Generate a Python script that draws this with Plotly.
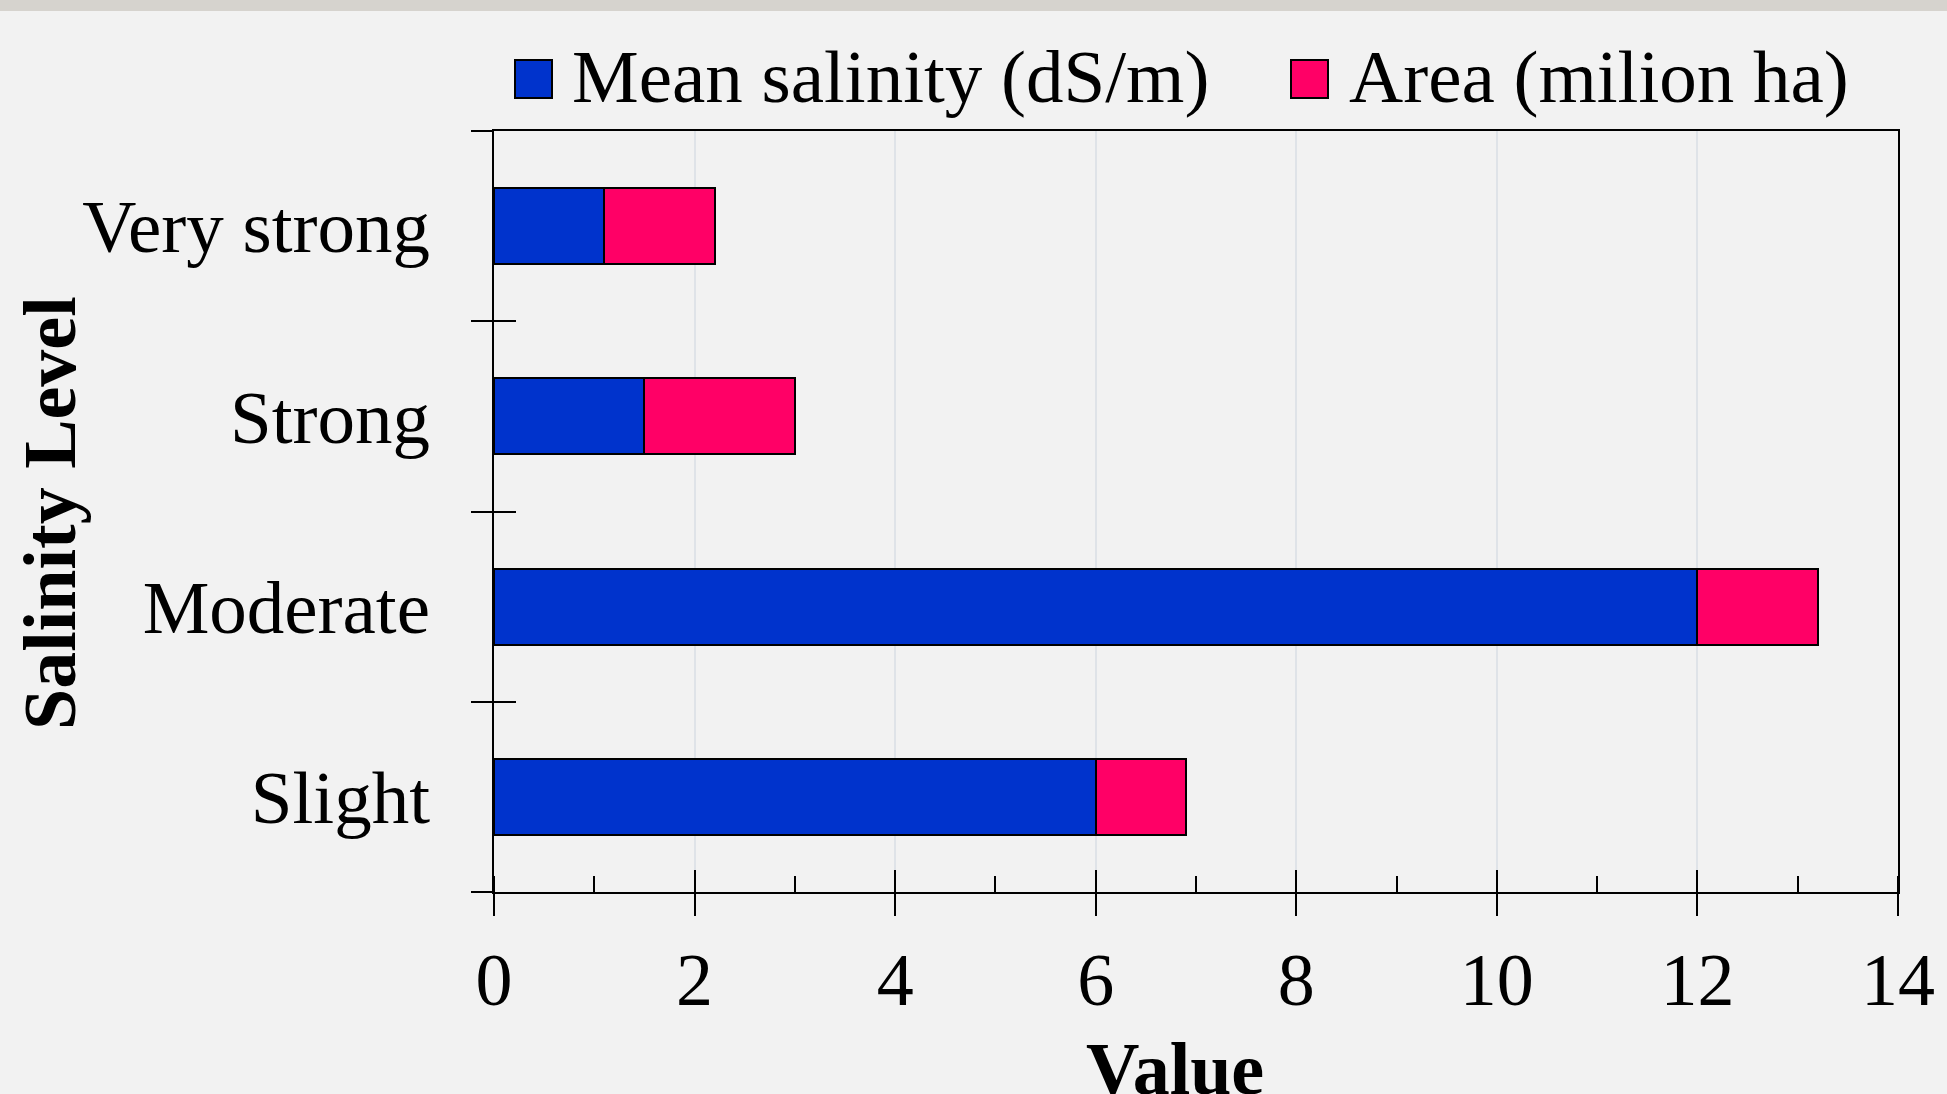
import plotly.graph_objects as go

# ---- data ----
levels = ["Slight", "Moderate", "Strong", "Very strong"]
mean_salinity = [6.0, 12.0, 1.5, 1.1]
area_mha = [0.9, 1.2, 1.5, 1.1]
series_names = ["Mean salinity (dS/m)", "Area (milion ha)"]
series_colors = ["#0033cc", "#ff0066"]
x_title = "Value"
y_title = "Salinity Level"

FONT = "Liberation Serif, Times New Roman, serif"
FS = 74
W, H = 1947, 1094
ML, MR, MT, MB = 494, 49, 131, 202
PW, PH = W - ML - MR, H - MT - MB


def px_x(x):
    return (x - ML) / PW


def px_y(y):
    return (H - MB - y) / PH


fig = go.Figure()
for vals, name, col in zip([mean_salinity, area_mha], series_names, series_colors):
    fig.add_trace(go.Bar(
        y=levels, x=vals, name=name, orientation="h",
        marker=dict(color=col, line=dict(color="black", width=2)),
        showlegend=False,
    ))

# invisible helper trace so overlay axes draw their category ticks
fig.add_trace(go.Scatter(
    y=levels, x=mean_salinity, xaxis="x2", yaxis="y2", mode="markers",
    marker=dict(opacity=0), hoverinfo="skip", showlegend=False,
))

fig.update_layout(
    width=W, height=H,
    margin=dict(l=ML, r=MR, t=MT, b=MB, autoexpand=False),
    paper_bgcolor="#f2f2f2", plot_bgcolor="#f2f2f2",
    barmode="stack", bargap=0.6,
    font=dict(family=FONT, size=FS, color="black"),
    xaxis=dict(
        range=[0, 14], dtick=2, tick0=0,
        ticks="outside", ticklen=22, tickwidth=2, tickcolor="black",
        minor=dict(dtick=1, ticks="inside", ticklen=16, tickwidth=2, tickcolor="black", showgrid=False),
        showgrid=True, gridcolor="#dfe3e8", gridwidth=1.5,
        showline=True, linecolor="black", linewidth=2, mirror=True,
        zeroline=False,
        tickfont=dict(family=FONT, size=FS),
        ticklabelstandoff=0,
        automargin=False,
    ),
    xaxis2=dict(
        overlaying="x", range=[0, 14], dtick=2, tick0=0,
        ticks="inside", ticklen=22, tickwidth=2, tickcolor="black",
        showticklabels=False, showgrid=False, zeroline=False, showline=False,
        anchor="y", side="bottom",
    ),
    yaxis=dict(
        type="category", categoryorder="array", categoryarray=levels,
        range=[-0.5, 3.5],
        ticks="outside", tickson="boundaries", ticklen=21, tickwidth=2, tickcolor="black",
        showgrid=False, zeroline=False,
        showline=True, linecolor="black", linewidth=2, mirror=True,
        tickfont=dict(family=FONT, size=75),
        ticklabelstandoff=47,
        automargin=False,
    ),
    yaxis2=dict(
        overlaying="y", type="category", categoryorder="array", categoryarray=levels,
        range=[-0.5, 3.5],
        ticks="inside", tickson="boundaries", ticklen=22, tickwidth=2, tickcolor="black",
        showticklabels=False, showgrid=False, zeroline=False, showline=False,
        anchor="x", side="left",
    ),
)

shapes = []
annotations = []

# custom legend (large square swatches like the reference)
legend_box_x = [515, 1291]
legend_text_x = [570, 1347]
for name, col, bx, tx in zip(series_names, series_colors, legend_box_x, legend_text_x):
    shapes.append(dict(type="rect", xref="paper", yref="paper",
                       x0=px_x(bx), x1=px_x(bx + 37), y0=px_y(98), y1=px_y(60),
                       fillcolor=col, line=dict(color="black", width=2)))
    annotations.append(dict(xref="paper", yref="paper", x=px_x(tx), y=px_y(76),
                            xanchor="left", yanchor="middle", showarrow=False,
                            text=name, font=dict(family=FONT, size=75, color="black")))

# axis titles
annotations.append(dict(xref="paper", yref="paper", x=px_x(1175), y=px_y(1026),
                        xanchor="center", yanchor="top", showarrow=False,
                        text="<b>" + x_title + "</b>", font=dict(family=FONT, size=FS, color="black")))
annotations.append(dict(xref="paper", yref="paper", x=px_x(50), y=px_y(513),
                        xanchor="center", yanchor="middle", showarrow=False, textangle=-90,
                        text="<b>" + y_title + "</b>", font=dict(family=FONT, size=FS, color="black")))

# grey strip at top of the image
shapes.append(dict(type="rect", xref="paper", yref="paper",
                   x0=px_x(0), x1=px_x(W), y0=px_y(11), y1=px_y(0),
                   fillcolor="#d6d3ce", line=dict(width=0), layer="below"))

fig.update_layout(shapes=shapes, annotations=annotations)
fig.write_html("out.html", config={"displayModeBar": False},
               post_script="document.body.style.margin='0';document.body.style.overflow='hidden';")
